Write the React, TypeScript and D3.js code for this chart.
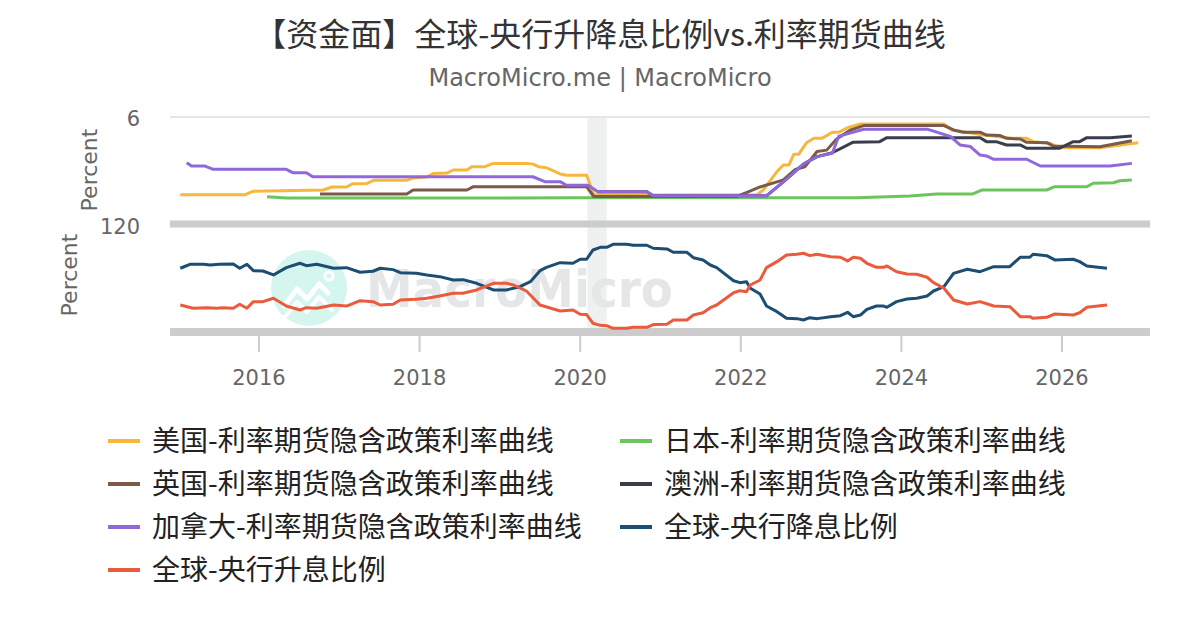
import * as d3 from "d3";

type Pt = [number, number];

// [decimal year, percent]
const usCurve: Pt[] = [
  [2015.02, 0.14], [2015.83, 0.14], [2015.93, 0.4], [2016.8, 0.49], [2016.91, 0.72],
  [2017.09, 0.72], [2017.17, 0.97], [2017.34, 0.97], [2017.43, 1.22], [2017.84, 1.22],
  [2017.92, 1.4], [2018.09, 1.47], [2018.17, 1.74], [2018.34, 1.77], [2018.42, 2.0],
  [2018.59, 2.0], [2018.65, 2.25], [2018.81, 2.25], [2018.92, 2.5], [2019.33, 2.5],
  [2019.42, 2.43], [2019.48, 2.25], [2019.58, 2.17], [2019.75, 1.7], [2019.83, 1.6],
  [2020.08, 1.6], [2020.17, 0.11], [2022.2, 0.11], [2022.28, 0.49], [2022.45, 1.87],
  [2022.53, 2.38], [2022.6, 2.38], [2022.66, 3.18], [2022.72, 3.18], [2022.82, 4.06],
  [2022.91, 4.39], [2023.01, 4.39], [2023.14, 4.85], [2023.22, 4.85], [2023.34, 5.22],
  [2023.49, 5.47], [2024.53, 5.47], [2024.63, 5.02], [2024.77, 4.89], [2025.02, 4.64],
  [2025.23, 4.51], [2025.35, 4.39], [2025.56, 4.39], [2025.64, 4.14], [2025.85, 4.02],
  [2025.97, 3.68], [2026.47, 3.68], [2026.95, 4.06],
];

const jpCurve: Pt[] = [
  [2016.1, -0.01], [2016.34, -0.12], [2019.0, -0.12], [2020.9, -0.08], [2022.86, -0.1],
  [2023.44, -0.1], [2024.11, 0.04], [2024.44, 0.19], [2024.89, 0.19], [2025.0, 0.49],
  [2025.81, 0.49], [2025.91, 0.74], [2026.31, 0.74], [2026.39, 1.0], [2026.64, 1.04],
  [2026.72, 1.19], [2026.87, 1.24],
];

const ukCurve: Pt[] = [
  [2016.76, 0.19], [2017.84, 0.19], [2017.92, 0.49], [2018.59, 0.49], [2018.67, 0.74],
  [2020.08, 0.74], [2020.17, 0.0], [2021.95, 0.0], [2022.07, 0.3], [2022.24, 0.72],
  [2022.37, 0.95], [2022.53, 1.25], [2022.68, 2.05], [2022.8, 2.25], [2022.95, 3.4],
  [2023.07, 3.5], [2023.19, 4.32], [2023.36, 5.0], [2023.53, 5.35], [2024.53, 5.35],
  [2024.65, 5.02], [2024.77, 4.85], [2024.98, 4.85], [2025.06, 4.64], [2025.23, 4.6],
  [2025.31, 4.39], [2025.48, 4.34], [2025.56, 4.09], [2025.81, 4.06], [2025.89, 3.81],
  [2026.47, 3.76], [2026.87, 4.21],
];

const auCurve: Pt[] = [
  [2020.22, 0.36], [2020.83, 0.36], [2020.91, 0.05], [2022.32, 0.05], [2022.53, 1.11],
  [2022.66, 1.8], [2022.78, 2.45], [2022.95, 3.01], [2023.14, 3.3], [2023.4, 4.1],
  [2023.73, 4.14], [2023.82, 4.44], [2024.98, 4.44], [2025.06, 4.14], [2025.18, 4.14],
  [2025.31, 3.89], [2025.48, 3.89], [2025.56, 3.64], [2025.97, 3.64], [2026.14, 4.14],
  [2026.22, 4.14], [2026.31, 4.44], [2026.6, 4.44], [2026.87, 4.57],
];

const caCurve: Pt[] = [
  [2015.1, 2.55], [2015.16, 2.3], [2015.33, 2.3], [2015.43, 2.05], [2016.34, 2.05],
  [2016.42, 1.8], [2016.59, 1.8], [2016.67, 1.49], [2019.41, 1.49], [2019.56, 1.12],
  [2019.75, 1.12], [2019.83, 0.85], [2020.1, 0.85], [2020.22, 0.36], [2020.83, 0.36],
  [2020.91, 0.05], [2022.32, 0.05], [2022.53, 1.11], [2022.66, 1.8], [2022.78, 2.45],
  [2022.95, 3.01], [2023.14, 3.27], [2023.22, 4.55], [2023.37, 4.8], [2023.53, 5.08],
  [2024.32, 5.08], [2024.48, 4.78], [2024.61, 4.53], [2024.73, 3.89], [2024.86, 3.77],
  [2024.98, 3.13], [2025.06, 3.06], [2025.15, 2.81], [2025.56, 2.81], [2025.73, 2.3],
  [2026.6, 2.3], [2026.87, 2.5],
];

// share of central banks cutting / hiking, %
const cutShare: Pt[] = [
  [2015.02, 73.1], [2015.14, 77.7], [2015.31, 77.7], [2015.39, 76.9], [2015.51, 77.7],
  [2015.68, 78.1], [2015.76, 73.1], [2015.85, 77.7], [2015.93, 70.3], [2016.05, 69.9],
  [2016.18, 65.3], [2016.34, 73.8], [2016.51, 78.9], [2016.59, 76.1], [2016.72, 77.7],
  [2016.93, 73.1], [2017.09, 73.8], [2017.26, 68.4], [2017.42, 69.6], [2017.51, 73.1],
  [2017.67, 71.5], [2017.76, 68.0], [2017.96, 67.2], [2018.09, 65.3], [2018.25, 63.3],
  [2018.42, 59.4], [2018.54, 59.8], [2018.71, 55.6], [2018.92, 47.8], [2019.08, 47.8],
  [2019.25, 51.6], [2019.38, 57.5], [2019.5, 70.3], [2019.58, 74.2], [2019.75, 79.6],
  [2019.91, 78.9], [2020.0, 83.6], [2020.08, 83.6], [2020.16, 94.4], [2020.25, 97.5],
  [2020.33, 97.5], [2020.41, 101], [2020.58, 101], [2020.66, 99.9], [2020.83, 99.9],
  [2020.91, 96.4], [2021.08, 95.6], [2021.16, 91.7], [2021.33, 91.7], [2021.41, 85.4],
  [2021.53, 82.8], [2021.62, 76.9], [2021.7, 73.8], [2021.91, 58.6], [2021.99, 56.3],
  [2022.07, 57.5], [2022.12, 49.8], [2022.24, 43.1], [2022.32, 29.1], [2022.45, 22.5],
  [2022.57, 14.8], [2022.7, 14.4], [2022.78, 12.8], [2022.86, 15.5], [2022.95, 14.4],
  [2023.12, 16.7], [2023.24, 17.9], [2023.33, 21.8], [2023.4, 16.7], [2023.49, 18.6],
  [2023.57, 25.2], [2023.69, 29.1], [2023.78, 29.1], [2023.82, 27.6], [2023.94, 34.2],
  [2024.07, 37.3], [2024.19, 38.1], [2024.32, 40.8], [2024.4, 46.6], [2024.48, 49.8],
  [2024.53, 51.6], [2024.65, 67.2], [2024.82, 71.9], [2024.98, 69.1], [2025.15, 74.9],
  [2025.35, 74.9], [2025.48, 85.9], [2025.6, 85.9], [2025.64, 89.4], [2025.81, 87.8],
  [2025.91, 82.8], [2026.14, 83.6], [2026.22, 80.8], [2026.31, 75.8], [2026.56, 73.1],
];

const hikeShare: Pt[] = [
  [2015.02, 30.3], [2015.18, 26.5], [2015.35, 27.2], [2015.47, 26.5], [2015.55, 27.2],
  [2015.68, 26.5], [2015.76, 31.1], [2015.85, 26.5], [2015.93, 34.2], [2016.05, 34.2],
  [2016.18, 38.1], [2016.34, 29.1], [2016.51, 24.5], [2016.59, 27.2], [2016.72, 26.5],
  [2016.93, 30.3], [2017.09, 29.1], [2017.26, 35.3], [2017.42, 34.2], [2017.51, 30.3],
  [2017.67, 31.1], [2017.76, 36.1], [2017.96, 36.9], [2018.09, 38.1], [2018.25, 40.8],
  [2018.42, 43.9], [2018.54, 43.9], [2018.71, 47.8], [2018.92, 55.6], [2019.08, 55.6],
  [2019.17, 53.6], [2019.33, 46.6], [2019.5, 30.3], [2019.75, 23.3], [2019.91, 24.5],
  [2020.0, 19.5], [2020.08, 19.1], [2020.16, 9.0], [2020.25, 6.6], [2020.33, 6.2],
  [2020.41, 3.1], [2020.58, 3.1], [2020.66, 4.3], [2020.83, 4.3], [2020.91, 7.5],
  [2021.08, 7.8], [2021.16, 12.8], [2021.33, 12.8], [2021.41, 18.6], [2021.53, 21.3],
  [2021.62, 27.2], [2021.7, 30.3], [2021.91, 44.6], [2021.99, 47.0], [2022.07, 45.8],
  [2022.12, 53.6], [2022.24, 59.4], [2022.32, 73.8], [2022.45, 80.8], [2022.57, 88.6],
  [2022.7, 89.4], [2022.78, 90.6], [2022.86, 87.8], [2022.95, 89.4], [2023.12, 86.6],
  [2023.24, 85.9], [2023.33, 81.6], [2023.4, 85.9], [2023.49, 84.7], [2023.57, 78.9],
  [2023.69, 74.2], [2023.78, 74.2], [2023.82, 75.8], [2023.94, 69.1], [2024.07, 66.4],
  [2024.19, 66.1], [2024.32, 62.6], [2024.4, 56.3], [2024.48, 52.4], [2024.53, 49.8],
  [2024.65, 36.1], [2024.82, 31.5], [2024.98, 34.2], [2025.15, 29.1], [2025.35, 28.3],
  [2025.48, 16.7], [2025.6, 16.7], [2025.64, 14.8], [2025.81, 16.0], [2025.91, 19.8],
  [2026.14, 18.6], [2026.22, 21.3], [2026.31, 27.6], [2026.56, 30.3],
];

const yearTicks = [2016, 2018, 2020, 2022, 2024, 2026];
const covidBand: [number, number] = [2020.09, 2020.33];

const topSeries = [
  { name: "美国-利率期货隐含政策利率曲线", color: "#f6b73c", data: usCurve },
  { name: "日本-利率期货隐含政策利率曲线", color: "#6cc45c", data: jpCurve },
  { name: "英国-利率期货隐含政策利率曲线", color: "#7b5a4a", data: ukCurve },
  { name: "澳洲-利率期货隐含政策利率曲线", color: "#393d4d", data: auCurve },
  { name: "加拿大-利率期货隐含政策利率曲线", color: "#9068dc", data: caCurve },
];
const bottomSeries = [
  { name: "全球-央行降息比例", color: "#1c4d72", data: cutShare },
  { name: "全球-央行升息比例", color: "#ea5a3d", data: hikeShare },
];

// legend order as shown (row by row, two columns)
const legendOrder = [
  "美国-利率期货隐含政策利率曲线", "日本-利率期货隐含政策利率曲线",
  "英国-利率期货隐含政策利率曲线", "澳洲-利率期货隐含政策利率曲线",
  "加拿大-利率期货隐含政策利率曲线", "全球-央行降息比例",
  "全球-央行升息比例",
];

const FONT = "'DejaVu Sans', 'Noto Sans CJK SC', sans-serif";
const CJK = "'Noto Sans CJK SC', 'DejaVu Sans', sans-serif";

export default function App() {
  const left = 170;
  const right = 1150;
  const x = d3.scaleLinear().domain([2014.892, 2027.096]).range([left, right]);
  const yTop = d3.scaleLinear().domain([-2, 6]).range([223, 117]);
  const yBot = d3.scaleLinear().domain([0, 120]).range([331, 228]);

  const lineTop = d3.line<Pt>().x((d) => x(d[0])).y((d) => yTop(d[1]));
  const lineBot = d3.line<Pt>().x((d) => x(d[0])).y((d) => yBot(d[1]));

  const all = [...topSeries, ...bottomSeries];

  return (
    <svg
      width={1200}
      height={630}
      style={{ position: "absolute", left: 0, top: 0, background: "#fff" }}
      fontFamily={FONT}
    >
      <rect width={1200} height={630} fill="#fff" />

      {/* title */}
      <text x={600} y={46} textAnchor="middle" fontSize={32} fill="#333" fontFamily={CJK}>
        【资金面】全球-央行升降息比例vs.利率期货曲线
      </text>
      <text x={600} y={86} textAnchor="middle" fontSize={24} fill="#666">
        MacroMicro.me | MacroMicro
      </text>

      {/* shaded band */}
      <rect
        x={x(covidBand[0])}
        y={117}
        width={x(covidBand[1]) - x(covidBand[0])}
        height={214}
        fill="#eef1f0"
      />

      {/* grid line at top */}
      <line x1={left} x2={right} y1={yTop(6)} y2={yTop(6)} stroke="#e6e6e6" strokeWidth={2} />

      {/* watermark */}
      <g>
        <circle cx={309} cy={288} r={38} fill="#d5f6ef" />
        <path
          d="M284,306 L297,289 L307,299 L319,284 L328,293"
          fill="none"
          stroke="#fff"
          strokeWidth={5}
          strokeLinejoin="round"
          strokeLinecap="round"
        />
        <path
          d="M284,318 L297,302 L307,312 L319,297 L332,310"
          fill="none"
          stroke="#fff"
          strokeWidth={4}
          strokeLinejoin="round"
          strokeLinecap="round"
        />
        <circle cx={329} cy={276} r={4} fill="none" stroke="#fff" strokeWidth={3} />
        <text
          x={366}
          y={307}
          fontSize={51}
          fontWeight="bold"
          fill="#e5e6e8"
          textLength={307}
          lengthAdjust="spacingAndGlyphs"
        >
          MacroMicro
        </text>
      </g>

      {/* pane axis bands */}
      <line x1={left} x2={right} y1={224} y2={224} stroke="#cccccc" strokeWidth={7} />
      <line x1={left} x2={right} y1={332} y2={332} stroke="#cccccc" strokeWidth={8} />

      {/* x ticks */}
      {yearTicks.map((t) => (
        <g key={t}>
          <line x1={x(t)} x2={x(t)} y1={336} y2={352} stroke="#cccccc" strokeWidth={2} />
          <text x={x(t)} y={385} textAnchor="middle" fontSize={21} fill="#666">
            {t}
          </text>
        </g>
      ))}

      {/* y labels */}
      <text x={140} y={126} textAnchor="end" fontSize={21} fill="#666">
        6
      </text>
      <text x={140} y={234} textAnchor="end" fontSize={21} fill="#666">
        120
      </text>
      <text
        transform={`translate(97,170) rotate(-90)`}
        textAnchor="middle"
        fontSize={22}
        fill="#666"
      >
        Percent
      </text>
      <text
        transform={`translate(77,275) rotate(-90)`}
        textAnchor="middle"
        fontSize={22}
        fill="#666"
      >
        Percent
      </text>

      {/* series */}
      {topSeries.map((s) => (
        <path
          key={s.name}
          d={lineTop(s.data) ?? ""}
          fill="none"
          stroke={s.color}
          strokeWidth={3}
          strokeLinejoin="round"
        />
      ))}
      {bottomSeries.map((s) => (
        <path
          key={s.name}
          d={lineBot(s.data) ?? ""}
          fill="none"
          stroke={s.color}
          strokeWidth={3}
          strokeLinejoin="round"
        />
      ))}

      {/* legend */}
      {legendOrder.map((name, i) => {
        const s = all.find((a) => a.name === name)!;
        const col = i % 2;
        const row = Math.floor(i / 2);
        const lx = col === 0 ? 108 : 620;
        const ly = 441 + row * 43;
        return (
          <g key={name}>
            <line x1={lx} x2={lx + 32} y1={ly} y2={ly} stroke={s.color} strokeWidth={4} />
            <text x={lx + 44} y={ly + 10} fontSize={28} fill="#222" fontFamily={CJK}>
              {name}
            </text>
          </g>
        );
      })}
    </svg>
  );
}
